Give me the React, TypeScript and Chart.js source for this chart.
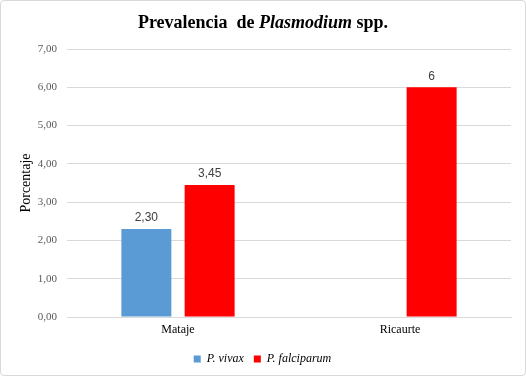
import React, { useEffect, useRef } from "react";
import { Chart, registerables } from "chart.js";

Chart.register(...registerables);

const categories = ["Mataje", "Ricaurte"];
const seriesNames = ["P. vivax", "P. falciparum"];
const vivaxValues: (number | null)[] = [2.3, null];
const falciparumValues: (number | null)[] = [3.45, 6];
const vivaxLabels = ["2,30", ""];
const falciparumLabels = ["3,45", "6"];
const yTicks = [0, 1, 2, 3, 4, 5, 6, 7];

const titlePlugin = {
  id: "mixedTitle",
  afterDraw(chart: any) {
    const ctx = chart.ctx;
    const parts = [
      { t: "Prevalencia  de ", f: "bold 18px 'Liberation Serif'" },
      { t: "Plasmodium", f: "italic bold 18px 'Liberation Serif'" },
      { t: " spp.", f: "bold 18px 'Liberation Serif'" },
    ];
    ctx.save();
    let total = 0;
    for (const p of parts) {
      ctx.font = p.f;
      total += ctx.measureText(p.t).width;
    }
    let x = chart.width / 2 - total / 2;
    ctx.fillStyle = "#000000";
    ctx.textBaseline = "middle";
    ctx.textAlign = "left";
    for (const p of parts) {
      ctx.font = p.f;
      ctx.fillText(p.t, x, 22);
      x += ctx.measureText(p.t).width;
    }
    ctx.restore();
  },
};

const labelPlugin = {
  id: "barLabels",
  afterDatasetsDraw(chart: any) {
    const ctx = chart.ctx;
    const labelSets = [vivaxLabels, falciparumLabels];
    ctx.save();
    ctx.font = "12px 'Liberation Sans'";
    ctx.fillStyle = "#404040";
    ctx.textAlign = "center";
    ctx.textBaseline = "bottom";
    chart.data.datasets.forEach((ds: any, di: number) => {
      const meta = chart.getDatasetMeta(di);
      meta.data.forEach((el: any, i: number) => {
        const v = ds.data[i];
        if (v === null || v === undefined) return;
        const txt = labelSets[di][i];
        if (!txt) return;
        ctx.fillText(txt, el.x, el.y - 5);
      });
    });
    ctx.restore();
  },
};

export default function App() {
  const ref = useRef<HTMLCanvasElement | null>(null);
  useEffect(() => {
    document.body.style.margin = "0";
    if (!ref.current) return;
    const chart = new Chart(ref.current, {
      type: "bar",
      data: {
        labels: categories,
        datasets: [
          {
            label: seriesNames[0],
            data: vivaxValues,
            backgroundColor: "#5B9BD5",
            categoryPercentage: 0.57,
            barPercentage: 0.79,
          },
          {
            label: seriesNames[1],
            data: falciparumValues,
            backgroundColor: "#FF0000",
            categoryPercentage: 0.57,
            barPercentage: 0.79,
          },
        ],
      },
      options: {
        animation: false,
        responsive: false,
        maintainAspectRatio: false,
        layout: { padding: { top: 48, left: 13, right: 14, bottom: 0 } },
        plugins: {
          title: { display: false },
          tooltip: { enabled: false },
          legend: {
            position: "bottom",
            labels: {
              boxWidth: 7,
              boxHeight: 7,
              padding: 10,
              color: "#000000",
              font: { family: "'Liberation Serif'", size: 12, style: "italic" },
            },
          },
        },
        scales: {
          x: {
            grid: { display: false, drawTicks: false },
            border: { display: true, color: "#D9D9D9" },
            ticks: {
              color: "#000000",
              padding: 6,
              font: { family: "'Liberation Serif'", size: 12 },
            },
            afterFit: (s: any) => {
              s.height = 26;
            },
          },
          y: {
            min: 0,
            max: 7,
            afterBuildTicks: (s: any) => {
              s.ticks = yTicks.map((v) => ({ value: v }));
            },
            grid: { color: "#D9D9D9", drawTicks: false },
            border: { display: false },
            ticks: {
              color: "#595959",
              padding: 10,
              font: { family: "'Liberation Serif'", size: 11 },
              callback: (v: any) => Number(v).toFixed(2).replace(".", ","),
            },
            title: {
              display: true,
              text: "Porcentaje",
              color: "#000000",
              font: { family: "'Liberation Serif'", size: 14 },
            },
            afterFit: (s: any) => {
              s.width = 53;
            },
          },
        },
      },
      plugins: [titlePlugin, labelPlugin],
    });
    return () => chart.destroy();
  }, []);
  return (
    <div
      style={{
        width: 526,
        height: 376,
        boxSizing: "border-box",
        border: "1px solid #D9D9D9",
        borderRadius: 4,
        background: "#fff",
      }}
    >
      <canvas ref={ref} width={524} height={374} style={{ display: "block" }} />
    </div>
  );
}
